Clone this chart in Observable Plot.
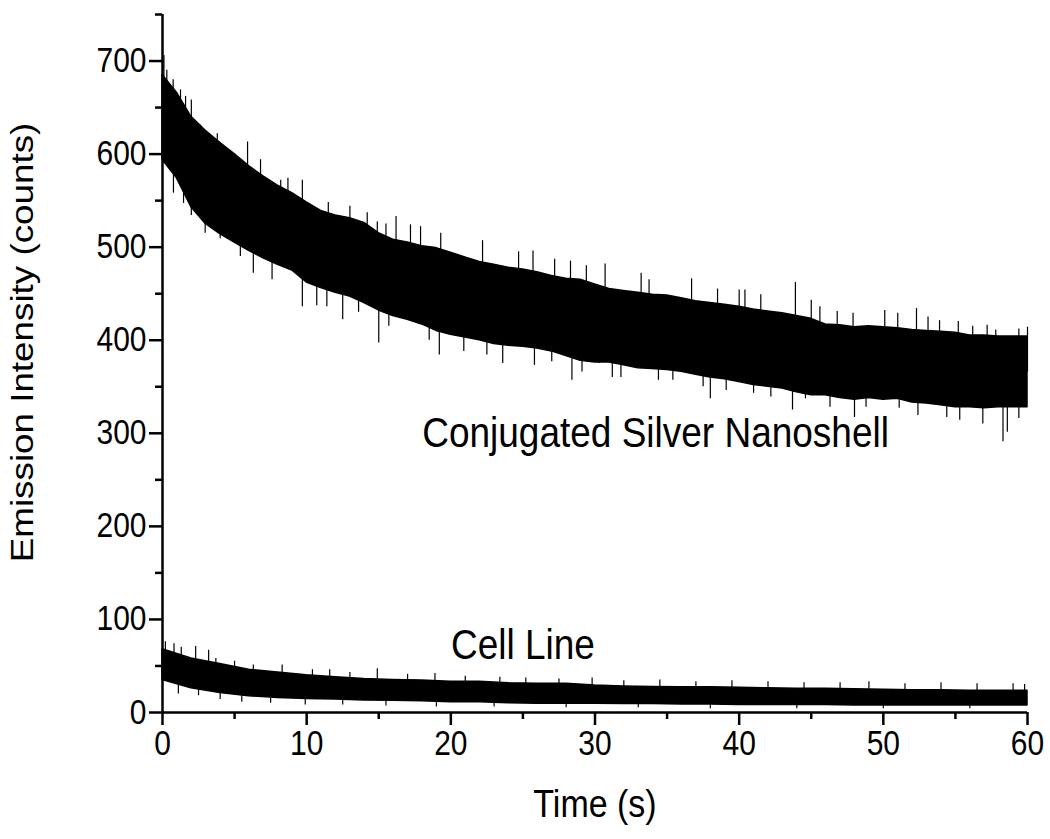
<!DOCTYPE html>
<html>
<head>
<meta charset="utf-8">
<script src="https://cdn.jsdelivr.net/npm/d3@7"></script>
<script src="https://cdn.jsdelivr.net/npm/@observablehq/plot@0.6"></script>
<style>
  html, body { margin: 0; padding: 0; background: #fff; }
  #chart { width: 1050px; height: 839px; }
</style>
</head>
<body>
<div id="chart"></div>
<script>
// ---------- Data ----------
const nanoshellTime = [0,1,2,3,4,5,6,7,8,9,10,11,12,13,14,15,16,17,18,19,20,21,22,23,24,25,26,27,28,29,30,31,32,33,34,35,36,37,38,39,40,41,42,43,44,45,46,47,48,49,50,51,52,53,54,55,56,57,58,59,60];
const nanoshellUpper = [685,666,640,625,612,600,587,576,566,558,548,539,534,531,526,515,508,505,501,499,494,489,484,481,478,476,473,469,466,465,460,455,453,451,449,448,445,442,440,438,436,433,431,429,426,423,417,416,414,415,414,413,411,410,409,408,405,405,404,404,404];
const nanoshellLower = [594,574,543,525,514,505,496,488,481,475,462,456,451,447,440,432,426,422,417,410,406,403,400,396,394,393,391,388,383,378,376,376,373,370,369,368,366,363,360,358,355,352,350,348,344,341,341,338,336,338,336,337,333,332,330,328,328,327,328,328,328];
// isolated spikes beyond the dense band: [time, counts]
const nanoshellPeaks = [[0.1,706],[0.3,690],[0.74,680],[1.25,669],[1.6,662],[2.0,658],[2.64,631],[3.8,622],[5.9,613],[6.8,594],[8.2,572],[8.7,574],[9.7,572],[11.5,548],[13.0,544],[14.2,537],[14.9,527],[15.5,525],[16.2,533],[17.2,524],[17.9,522],[19.3,515],[22.2,507],[24.7,495],[25.7,496],[27.2,487],[28.3,485],[29.4,480],[30.7,482],[33.2,472],[33.75,465],[36.7,466],[38.5,455],[40.0,454],[40.4,454],[41.5,449],[43.9,462],[45.0,443],[45.6,436],[46.8,431],[47.9,429],[50.1,432],[51.0,429],[52.3,434],[53.1,425],[53.9,421],[55.2,420],[56.2,415],[57.2,416],[57.8,411],[59.4,412],[60.0,414]];
const nanoshellDips = [[0.76,558],[1.46,547],[2.0,534],[2.96,515],[4.0,509],[5.4,490],[6.3,472],[7.6,465],[9.7,436],[10.7,437],[11.4,436],[12.5,422],[13.6,430],[15.0,397],[15.7,415],[18.5,400],[19.2,384],[20.9,388],[22.5,384],[23.6,375],[25.8,373],[27.0,377],[28.4,357],[29.1,366],[30.3,375],[31.2,360],[31.8,360],[34.4,357],[35.4,357],[37.5,350],[38.0,337],[39.1,346],[41.0,343],[42.2,339],[43.7,325],[44.6,337],[46.3,328],[48.0,317],[48.8,328],[51.1,327],[52.4,319],[54.4,317],[55.3,314],[56.9,310],[58.3,291],[58.6,301],[59.4,316]];

const cellTime = [0,2,4,6,8,10,12,14,16,18,20,22,24,26,28,30,32,34,36,38,40,42,44,46,48,50,52,54,56,58,60];
const cellUpper = [68,58,52,46,43,40,38,36,35,34.5,33,33,31.5,31,31,29,28,27.5,27,27,26.5,26,25.5,25.5,25,24.5,24,24,23.5,23.5,23.5];
const cellLower = [35,26,21,17.5,15.5,14.5,14,13,12.5,12,11,11,10,9.5,9.5,9.5,9,9,8.5,8.5,8,8,8,8,7.5,7.5,7.5,7.5,7.5,7.5,7.5];
const cellPeaks = [[0.2,76],[0.8,74],[1.3,70],[2.3,71],[3.2,67],[3.7,58],[5.0,55],[6.3,51],[8.3,51],[10.4,46],[11.6,46],[13.0,43],[14.9,47],[17.0,41],[18.9,42],[21.0,39],[23.4,38],[25.2,37],[27.5,36],[29.8,37],[32.0,34],[34.5,35],[37.0,33],[39.5,34],[42.0,33],[44.5,32],[47.0,32],[49.0,33],[51.5,31],[54.0,32],[56.5,31],[59.0,31],[59.8,30]];
const cellDips = [[1.1,20],[2.5,18],[4.0,14],[5.5,11],[7.5,10],[9.9,8],[12.5,8],[15.5,7],[19,6],[23,6],[28,5],[33,5],[38,4],[44,4],[50,4],[56,4]];

const xMajorTicks = [0,10,20,30,40,50,60];
const xMinorTicks = [5,15,25,35,45,55];
const yMajorTicks = [0,100,200,300,400,500,600,700];
const yMinorTicks = [50,150,250,350,450,550,650,750];

const seriesLabels = [
  {text: "Conjugated Silver Nanoshell", t: 34.2, v: 285},
  {text: "Cell Line", t: 25.0, v: 58}
];
const xTitle = "Time (s)";
const yTitle = "Emission Intensity (counts)";

// ---------- Build tables ----------
const bandRows = (time, lo, hi) => time.map((t, i) => ({t, lo: lo[i], hi: hi[i]}));
const nanoRows = bandRows(nanoshellTime, nanoshellLower, nanoshellUpper);
const cellRows = bandRows(cellTime, cellLower, cellUpper);
// anchor each spike inside its band (middle of the band at that time)
function bandMid(time, lo, hi, t) {
  const i = Math.max(0, Math.min(time.length - 2, d3.bisectRight(time, t) - 1));
  const f = (t - time[i]) / (time[i + 1] - time[i]);
  const a = (lo[i] + hi[i]) / 2, b = (lo[i + 1] + hi[i + 1]) / 2;
  return a + (b - a) * f;
}
const spikeRows = (list, time, lo, hi) => list.map(([t, v]) => ({t, v, base: bandMid(time, lo, hi, t)}));
const spikes = [
  ...spikeRows(nanoshellPeaks, nanoshellTime, nanoshellLower, nanoshellUpper),
  ...spikeRows(nanoshellDips, nanoshellTime, nanoshellLower, nanoshellUpper),
  ...spikeRows(cellPeaks, cellTime, cellLower, cellUpper),
  ...spikeRows(cellDips, cellTime, cellLower, cellUpper)
];

const font = "'Liberation Sans', Arial, Helvetica, sans-serif";

const chart = Plot.plot({
  width: 1050,
  height: 839,
  marginLeft: 162,
  marginRight: 23,
  marginTop: 14,
  marginBottom: 127,
  style: {fontFamily: font, background: "#fff", color: "#000"},
  x: {domain: [0, 60]},
  y: {domain: [0, 750]},
  marks: [
    Plot.areaY(nanoRows, {x: "t", y1: "lo", y2: "hi", fill: "#000", stroke: "#000", strokeWidth: 1.5}),
    Plot.areaY(cellRows, {x: "t", y1: "lo", y2: "hi", fill: "#000", stroke: "#000", strokeWidth: 1.5}),
    Plot.ruleX(spikes, {x: "t", y1: "base", y2: "v", stroke: "#000", strokeWidth: 1.2}),
    // axes
    Plot.ruleY([0], {stroke: "#000", strokeWidth: 2.5}),
    Plot.ruleX([0], {stroke: "#000", strokeWidth: 2.5}),
    Plot.axisX({ticks: xMajorTicks, tickSize: 13, tickPadding: 5, fontSize: 30, strokeWidth: 2.5, label: null}),
    Plot.axisX({ticks: xMinorTicks, tickSize: 7, text: null, strokeWidth: 2.5, label: null}),
    Plot.axisY({ticks: yMajorTicks, tickSize: 13, tickPadding: 3, fontSize: 30, strokeWidth: 2.5, label: null}),
    Plot.axisY({ticks: yMinorTicks, tickSize: 7, text: null, strokeWidth: 2.5, label: null}),
    // axis titles
    Plot.text([xTitle], {frameAnchor: "bottom", dy: 104, fontSize: 34, lineAnchor: "bottom", textAnchor: "middle", fill: "#000"}),
    Plot.text([yTitle], {frameAnchor: "left", rotate: -90, dx: -140, dy: -21, fontSize: 32, textAnchor: "middle", fill: "#000"}),
    // series labels
    Plot.text(seriesLabels, {x: "t", y: "v", text: "text", fontSize: 37, lineAnchor: "bottom", textAnchor: "middle", fill: "#000"})
  ]
});
// the reference's lettering is tall for its width: stretch glyphs vertically on screen
d3.select(chart).selectAll("text").each(function () {
  const el = d3.select(this);
  const tr = el.attr("transform") || "";
  const s = /rotate\(\s*-?90/.test(tr) ? " scale(1.15,1)" : " scale(1,1.15)";
  el.attr("transform", tr + s);
});
document.getElementById("chart").appendChild(chart);
</script>
</body>
</html>
